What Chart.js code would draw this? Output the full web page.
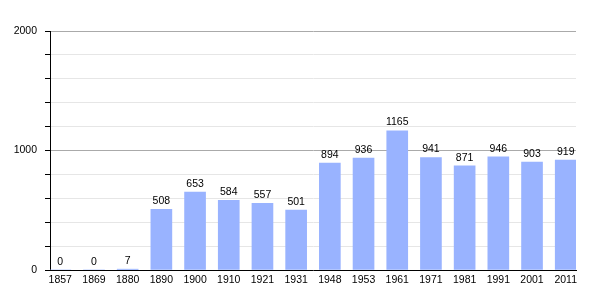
<!DOCTYPE html>
<html>
<head>
<meta charset="utf-8">
<script src="https://cdn.jsdelivr.net/npm/chart.js@4/dist/chart.umd.min.js"></script>
<style>
  html, body { margin: 0; padding: 0; background: #ffffff; }
  #wrap { width: 605px; height: 300px; }
</style>
</head>
<body>
<div id="wrap"><canvas id="c" width="605" height="300"></canvas></div>
<script>
const years = ['1857','1869','1880','1890','1900','1910','1921','1931','1948','1953','1961','1971','1981','1991','2001','2011'];
const population = [0, 0, 7, 508, 653, 584, 557, 501, 894, 936, 1165, 941, 871, 946, 903, 919];
const yLabels = [0, 1000, 2000];

const FONT = 'Liberation Sans, Arial, sans-serif';

const valueLabels = {
  id: 'valueLabels',
  afterDatasetsDraw(chart) {
    const ctx = chart.ctx;
    const meta = chart.getDatasetMeta(0);
    ctx.save();
    ctx.font = '10.5px ' + FONT;
    ctx.fillStyle = '#000';
    ctx.textAlign = 'center';
    ctx.textBaseline = 'bottom';
    meta.data.forEach((bar, i) => {
      ctx.fillText(String(population[i]), bar.x, bar.y - 3);
    });
    ctx.restore();
  }
};

new Chart(document.getElementById('c'), {
  type: 'bar',
  data: {
    datasets: [{
      data: population.map((v, i) => ({ x: i, y: v })),
      backgroundColor: '#99b3ff',
      borderWidth: 0,
      barThickness: 21
    }]
  },
  options: {
    responsive: false,
    animation: false,
    events: [],
    layout: { padding: { top: 31, right: 29, bottom: 0, left: 0 } },
    plugins: { legend: { display: false }, tooltip: { enabled: false } },
    scales: {
      x: {
        type: 'linear',
        offset: false,
        min: -0.305,
        max: 15.305,
        afterFit(scale) { scale.height = 30; },
        grid: { display: false, drawTicks: false, offset: false },
        border: { display: true, color: '#000', width: 1 },
        ticks: {
          stepSize: 1,
          includeBounds: false,
          autoSkip: false,
          maxRotation: 0,
          padding: 4,
          color: '#000',
          font: { family: FONT, size: 10.5 },
          callback(v) {
            const r = Math.round(v);
            return Math.abs(v - r) < 1e-6 && years[r] !== undefined ? years[r] : '';
          }
        }
      },
      y: {
        min: 0,
        max: 2000,
        afterFit(scale) { scale.width = 50; },
        grid: {
          color(ctx) {
            const v = ctx.tick ? ctx.tick.value : 0;
            if (v === 0) return 'rgba(0,0,0,0)';
            return (v % 1000 === 0) ? '#aaaaaa' : '#e6e6e6';
          },
          tickColor: '#000',
          tickLength: 5,
          lineWidth: 1
        },
        border: { display: true, color: '#000', width: 1 },
        ticks: {
          stepSize: 200,
          autoSkip: false,
          padding: 8,
          color: '#000',
          font: { family: FONT, size: 10.5 },
          callback(v) { return yLabels.includes(v) ? String(v) : ''; }
        }
      }
    }
  },
  plugins: [valueLabels]
});
</script>
</body>
</html>
